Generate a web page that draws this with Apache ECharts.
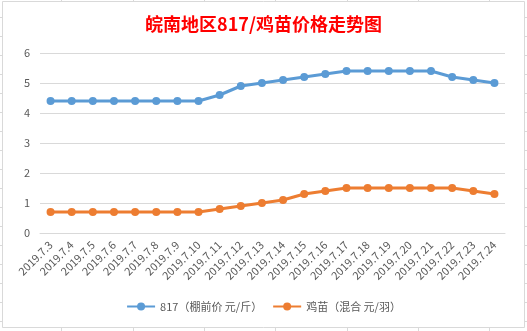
<!DOCTYPE html>
<html>
<head>
<meta charset="utf-8">
<script src="https://cdn.jsdelivr.net/npm/echarts@6/dist/echarts.min.js"></script>
<style>
html,body{margin:0;padding:0;background:#fff;}
#c{width:527px;height:331px;}
</style>
</head>
<body>
<div id="c"></div>
<script>
const titleText = '皖南地区817/鸡苗价格走势图';
const categories = ['2019.7.3','2019.7.4','2019.7.5','2019.7.6','2019.7.7','2019.7.8','2019.7.9','2019.7.10','2019.7.11','2019.7.12','2019.7.13','2019.7.14','2019.7.15','2019.7.16','2019.7.17','2019.7.18','2019.7.19','2019.7.20','2019.7.21','2019.7.22','2019.7.23','2019.7.24'];
const seriesNames = ['817（棚前价 元/斤）', '鸡苗（混合 元/羽）'];
const price817 = [4.4,4.4,4.4,4.4,4.4,4.4,4.4,4.4,4.6,4.9,5.0,5.1,5.2,5.3,5.4,5.4,5.4,5.4,5.4,5.2,5.1,5.0];
const chickPrice = [0.7,0.7,0.7,0.7,0.7,0.7,0.7,0.7,0.8,0.9,1.0,1.1,1.3,1.4,1.5,1.5,1.5,1.5,1.5,1.5,1.4,1.3];
const yTicks = [0,1,2,3,4,5,6];

const FONT = '"Noto Sans CJK SC", "Noto Sans", sans-serif';

// decorative spreadsheet cell grid peeking outside the chart frame
const deco = [];
const cellX = [61,133,204,275,347,418,489];
cellX.forEach(x => {
  deco.push({type:'line', shape:{x1:x+0.5,y1:0,x2:x+0.5,y2:1}, style:{stroke:'#D9D9D9',lineWidth:1}, silent:true});
  deco.push({type:'line', shape:{x1:x+0.5,y1:328,x2:x+0.5,y2:331}, style:{stroke:'#D9D9D9',lineWidth:1}, silent:true});
});
for (let y = 17; y < 331; y += 19) {
  deco.push({type:'line', shape:{x1:0,y1:y+0.5,x2:2,y2:y+0.5}, style:{stroke:'#D9D9D9',lineWidth:1}, silent:true});
  deco.push({type:'line', shape:{x1:525,y1:y+0.5,x2:527,y2:y+0.5}, style:{stroke:'#D9D9D9',lineWidth:1}, silent:true});
}

const chart = echarts.init(document.getElementById('c'), null, {renderer:'canvas'});
chart.setOption({
  backgroundColor:'#fff',
  animation:false,
  textStyle:{fontFamily:FONT},
  graphic:[{
    type:'rect', left:2, top:1, z:-1,
    shape:{width:522, height:326},
    style:{fill:'#fff', stroke:'#D9D9D9', lineWidth:1}
  }].concat(deco),
  title:{
    text:titleText, left:'center', top:10,
    textStyle:{color:'#FF0000', fontSize:18, fontWeight:'bold', fontFamily:FONT}
  },
  legend:{
    bottom:14, left:'center',
    itemWidth:28, itemHeight:10, itemGap:10,
    textStyle:{color:'#595959', fontSize:11, fontFamily:FONT},
    data:seriesNames
  },
  grid:{left:40, right:22, top:53, bottom:98, containLabel:false},
  xAxis:{
    type:'category', data:categories, boundaryGap:true,
    axisLine:{lineStyle:{color:'#D9D9D9'}},
    axisTick:{show:false},
    axisLabel:{rotate:45, interval:0, color:'#595959', fontSize:11, margin:10, fontFamily:FONT}
  },
  yAxis:{
    type:'value', min:yTicks[0], max:yTicks[yTicks.length-1], interval:1,
    axisLine:{show:false}, axisTick:{show:false},
    splitLine:{lineStyle:{color:'#D9D9D9'}},
    axisLabel:{color:'#595959', fontSize:11, margin:10, fontFamily:FONT}
  },
  series:[
    {name:seriesNames[0], type:'line', data:price817, symbol:'circle', symbolSize:8,
     itemStyle:{color:'#5B9BD5'}, lineStyle:{color:'#5B9BD5', width:3}},
    {name:seriesNames[1], type:'line', data:chickPrice, symbol:'circle', symbolSize:8,
     itemStyle:{color:'#ED7D31'}, lineStyle:{color:'#ED7D31', width:3}}
  ]
});
</script>
</body>
</html>
